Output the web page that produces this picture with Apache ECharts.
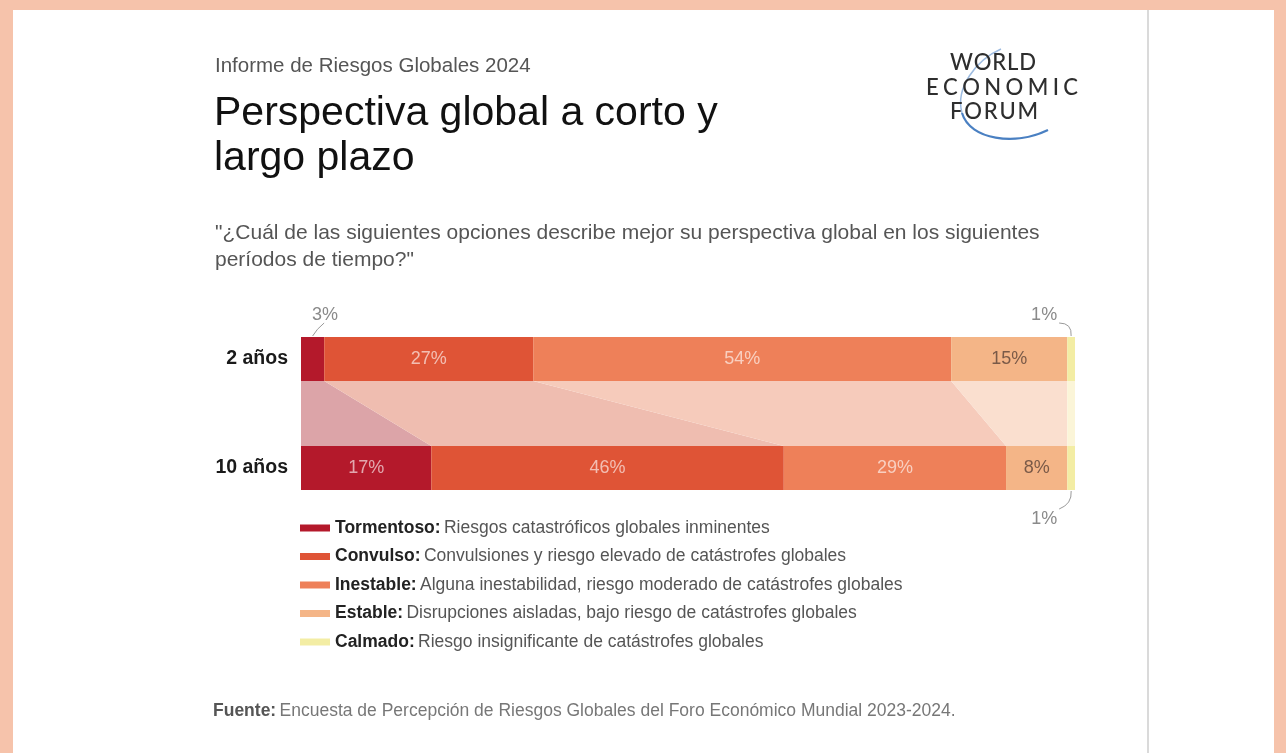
<!DOCTYPE html>
<html>
<head>
<meta charset="utf-8">
<script src="https://cdn.jsdelivr.net/npm/echarts@6/dist/echarts.min.js"></script>
<style>
  html, body { margin: 0; padding: 0; background: #ffffff; }
  #chart { width: 1286px; height: 753px; }
</style>
</head>
<body>
<div id="chart"></div>
<script>
// Horizon categories and outlook shares (percent of respondents)
const categories = ['2 años', '10 años'];
const outlookNames = ['Tormentoso', 'Convulso', 'Inestable', 'Estable', 'Calmado'];
const outlookDescriptions = [
  'Riesgos catastróficos globales inminentes',
  'Convulsiones y riesgo elevado de catástrofes globales',
  'Alguna inestabilidad, riesgo moderado de catástrofes globales',
  'Disrupciones aisladas, bajo riesgo de catástrofes globales',
  'Riesgo insignificante de catástrofes globales'
];
const shortTerm = [3, 27, 54, 15, 1];
const longTerm = [17, 46, 29, 8, 1];

const barColors = ['#b4192b', '#df5436', '#ee8059', '#f4b587', '#f3eda4'];
const bandColors = ['#dca4a8', '#efbdb0', '#f6cbbb', '#fadfcf', '#fbf5d8'];
const labelColors = ['rgba(255,255,255,0.62)', 'rgba(255,255,255,0.62)', 'rgba(255,255,255,0.62)', '#7a5a48', '#7a5a48'];

const FONT = '"Liberation Sans", Arial, Helvetica, sans-serif';
const LOGO_FONT = '500 23px Lato, "Open Sans", sans-serif';
const LOGO_SQUEEZE = 0.96;
const rows = [shortTerm, longTerm];
const GRID_LEFT = 301, GRID_WIDTH = 774, GRID_TOPS = [337, 446], BAR_H = 44;

const sum = a => a.reduce((s, v) => s + v, 0);

const chart = echarts.init(document.getElementById('chart'), null, { renderer: 'canvas' });

const grids = GRID_TOPS.map(t => ({ left: GRID_LEFT, width: GRID_WIDTH, top: t, height: BAR_H }));
const xAxes = rows.map((r, i) => ({
  type: 'value', gridIndex: i, min: 0, max: sum(r), show: false
}));
const yAxes = categories.map((c, i) => ({
  type: 'category', gridIndex: i, data: [c],
  axisLine: { show: false }, axisTick: { show: false }, splitLine: { show: false },
  axisLabel: { color: '#1a1a1a', fontWeight: 'bold', fontSize: 19.5, fontFamily: FONT, margin: 13 }
}));

const series = [];
rows.forEach((row, r) => {
  row.forEach((v, i) => {
    series.push({
      type: 'bar', name: outlookNames[i], stack: 'row' + r,
      xAxisIndex: r, yAxisIndex: r, barWidth: '100%',
      data: [v], silent: true,
      itemStyle: { color: barColors[i] },
      label: {
        show: v >= 5, position: 'inside', formatter: '{c}%',
        color: labelColors[i], fontSize: 18, fontFamily: FONT
      },
      emphasis: { disabled: true }
    });
  });
});

const staticGraphics = [
  // page frame
  { type: 'rect', shape: { x: 0, y: 0, width: 1286, height: 10 }, style: { fill: '#f6c3ab' } },
  { type: 'rect', shape: { x: 0, y: 0, width: 13, height: 753 }, style: { fill: '#f6c3ab' } },
  { type: 'rect', shape: { x: 1274, y: 0, width: 12, height: 753 }, style: { fill: '#f6c3ab' } },
  { type: 'rect', shape: { x: 1147, y: 10, width: 2, height: 743 }, style: { fill: '#dadada' } },
  // headings
  { type: 'text', style: { x: 215, y: 66, text: 'Informe de Riesgos Globales 2024', font: '20.5px ' + FONT, fill: '#555', verticalAlign: 'middle' } },
  { type: 'text', style: { x: 214, y: 114, text: 'Perspectiva global a corto y', font: '41px ' + FONT, fill: '#111', verticalAlign: 'middle' } },
  { type: 'text', style: { x: 214, y: 159, text: 'largo plazo', font: '41px ' + FONT, fill: '#111', verticalAlign: 'middle' } },
  { type: 'text', style: { x: 215, y: 233, text: '"¿Cuál de las siguientes opciones describe mejor su perspectiva global en los siguientes', font: '21px ' + FONT, fill: '#555', verticalAlign: 'middle' } },
  { type: 'text', style: { x: 215, y: 260, text: 'períodos de tiempo?"', font: '21px ' + FONT, fill: '#555', verticalAlign: 'middle' } },
  {
    type: 'text', style: {
      x: 213, y: 711, verticalAlign: 'middle',
      text: '{b|Fuente:} {n|Encuesta de Percepción de Riesgos Globales del Foro Económico Mundial 2023-2024.}',
      rich: {
        b: { font: 'bold 17.5px ' + FONT, fill: '#555' },
        n: { font: '17.5px ' + FONT, fill: '#777' }
      }
    }
  },
  // logo arc
  { type: 'bezierCurve', shape: { x1: 1001, y1: 49, cpx1: 976, cpy1: 60, cpx2: 955, cpy2: 88, x2: 962, y2: 113 }, style: { stroke: '#9dbbe0', lineWidth: 1.5, fill: 'none' } },
  { type: 'bezierCurve', shape: { x1: 962, y1: 113, cpx1: 970, cpy1: 140, cpx2: 1015, cpy2: 146, x2: 1048, y2: 130 }, style: { stroke: '#4a80c2', lineWidth: 2.2, fill: 'none' } }
];

// logo lettering: each line tracked out to its own span
const logoRows = [
  { text: 'WORLD', y: 63, from: 950, to: 1036 },
  { text: 'ECONOMIC', y: 88, from: 926, to: 1078 },
  { text: 'FORUM', y: 112, from: 950, to: 1038 }
];
const measureCtx = document.createElement('canvas').getContext('2d');
measureCtx.font = LOGO_FONT;
logoRows.forEach(row => {
  const chars = row.text.split('');
  const widths = chars.map(c => measureCtx.measureText(c).width * LOGO_SQUEEZE);
  const tracking = (row.to - row.from - sum(widths)) / (chars.length - 1);
  let x = row.from;
  chars.forEach((c, k) => {
    staticGraphics.push({
      type: 'text', z: 10, x: x, y: row.y, scaleX: LOGO_SQUEEZE,
      style: { x: 0, y: 0, text: c, font: LOGO_FONT, fill: '#2e2e2e', align: 'left', verticalAlign: 'middle' }
    });
    x += widths[k] + tracking;
  });
});

const option = {
  backgroundColor: '#ffffff',
  animation: false,
  grid: grids,
  xAxis: xAxes,
  yAxis: yAxes,
  legend: {
    orient: 'vertical', left: 300, top: 519, padding: 0, icon: 'rect',
    itemWidth: 30, itemHeight: 7, itemGap: 10.5, selectedMode: false,
    data: outlookNames,
    formatter: name => '{b|' + name + ':} {n|' + outlookDescriptions[outlookNames.indexOf(name)] + '}',
    textStyle: {
      rich: {
        b: { fontWeight: 'bold', color: '#222', fontSize: 17.5, lineHeight: 20, fontFamily: FONT },
        n: { color: '#555', fontSize: 17.5, lineHeight: 20, fontFamily: FONT }
      }
    }
  },
  series: series,
  graphic: staticGraphics
};
chart.setOption(option);

// connecting bands and outside labels, positioned through the axes
function edges(values, axisIndex) {
  const xs = [chart.convertToPixel({ xAxisIndex: axisIndex }, 0)];
  let acc = 0;
  values.forEach(v => { acc += v; xs.push(chart.convertToPixel({ xAxisIndex: axisIndex }, acc)); });
  return xs;
}
const rowEdges = rows.map((row, r) => edges(row, r));
const rowCenters = categories.map((c, r) => chart.convertToPixel({ yAxisIndex: r }, c));
const topBottom = rowCenters[0] + BAR_H / 2;
const lowTop = rowCenters[1] - BAR_H / 2;

const dynamic = [];
outlookNames.forEach((n, i) => {
  const a = rowEdges[0], b = rowEdges[1];
  dynamic.push({
    type: 'polygon', z: -1,
    shape: { points: [[a[i], topBottom], [a[i + 1], topBottom], [b[i + 1], lowTop], [b[i], lowTop]] },
    style: { fill: bandColors[i] }
  });
});

rows.forEach((row, r) => {
  row.forEach((v, i) => {
    if (v >= 5) return;
    const cx = (rowEdges[r][i] + rowEdges[r][i + 1]) / 2;
    const edgeY = r === 0 ? rowCenters[0] - BAR_H / 2 : rowCenters[1] + BAR_H / 2;
    const s = r === 0 ? -1 : 1;
    const dir = i === 0 ? 1 : -1;
    const lx = cx + dir * (i === 0 ? 12.5 : 27);
    const ly = edgeY + s * (r === 0 ? 22 : 29);
    dynamic.push({
      type: 'text', style: { x: lx, y: ly, text: v + '%', font: '18px ' + FONT, fill: '#8a8a8a', align: 'center', verticalAlign: 'middle' }
    });
    const sx = i === 0 ? lx - 1 : lx + 15;
    const sy = r === 0 ? ly + 8 : ly - 10;
    dynamic.push({
      type: 'bezierCurve',
      shape: { x1: sx, y1: sy, cpx1: cx + dir * -1 + (i === 0 ? 5 : 0), cpy1: edgeY + s * (i === 0 ? 8 : 14), x2: cx, y2: edgeY + s * 1 },
      style: { stroke: '#9a9a9a', lineWidth: 1, fill: 'none' }
    });
  });
});

chart.setOption({ graphic: staticGraphics.concat(dynamic) });
</script>
</body>
</html>
